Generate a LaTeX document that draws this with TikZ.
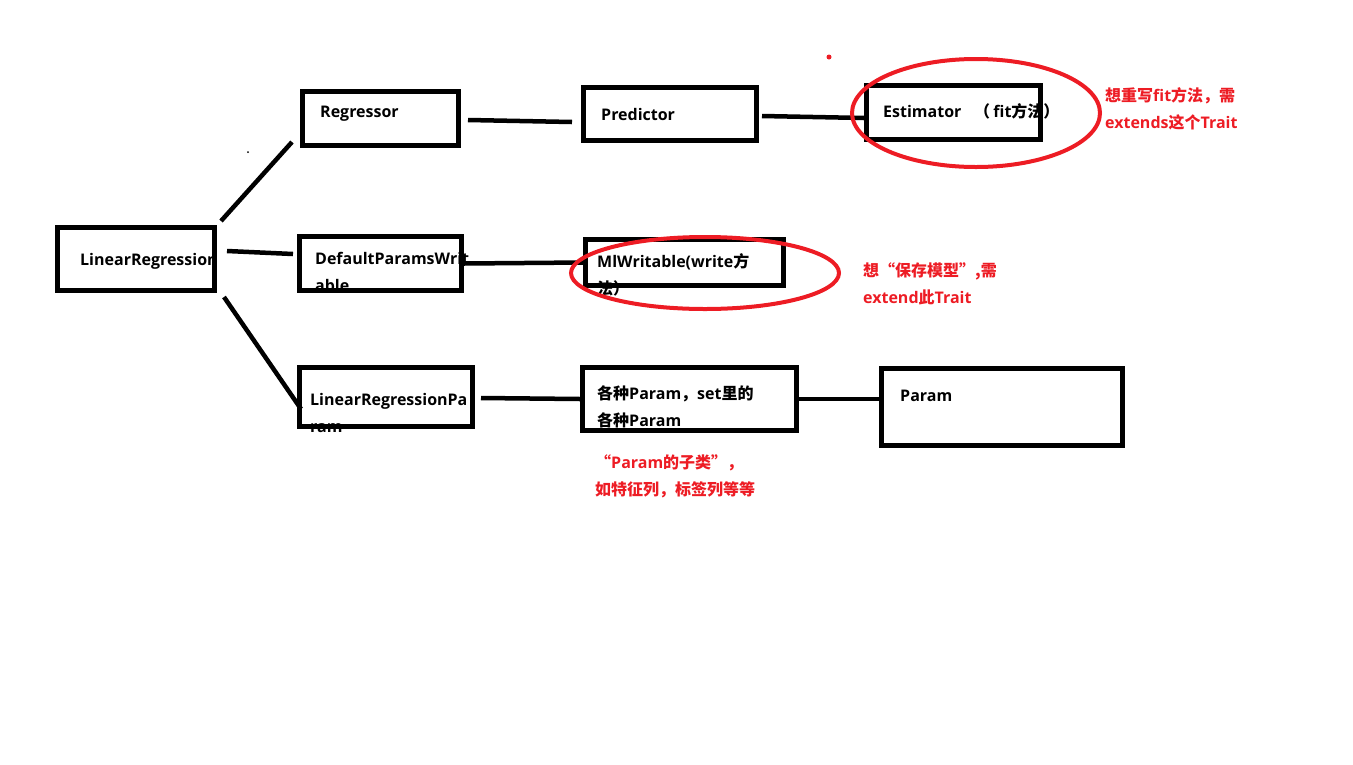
\documentclass[tikz,border=0pt]{standalone}
\usepackage{fontspec}
\setmainfont{Open Sans}
\newfontfamily\zhfont{Noto Sans CJK SC Bold}
\newcommand{\zh}[1]{{\zhfont #1}}
\definecolor{paintred}{RGB}{237,28,36}

\begin{document}
\begin{tikzpicture}[x=1pt, y=-1pt,
    box/.style={draw, line width=5pt, inner sep=0pt},
    link/.style={line width=4.5pt},
    lbl/.style={inner sep=0pt, anchor=base west, text width=300pt, align=left,
        font=\fontsize{16}{27.5}\selectfont\bfseries},
    note/.style={lbl, text=paintred},
    ring/.style={draw=paintred, line width=4pt}]
    \useasboundingbox (0,0) rectangle (1353,764);

    % texts first, the borders go over them
    \node[lbl] (linregtxt) at (80,265) {LinearRegression};
    \node[lbl] (regtxt) at (320,117) {Regressor};
    \node[lbl] (dpwtxt) at (315,264) {DefaultParamsWrit\\able};
    \node[lbl] (lrptxt) at (310,405) {LinearRegressionPa\\ram};
    \node[lbl] (predtxt) at (601,120) {Predictor};
    \node[lbl] (esttxt) at (883,117) {Estimator\hspace{0.8em}\zh{（}\hspace{0.2em}fit\zh{方法）}};
    \node[lbl] (mlwtxt) at (597,267) {MlWritable(write\zh{方}\\\zh{法）}};
    \node[lbl] (prmstxt) at (597,399) {\zh{各种}Param\zh{，}set\zh{里的}\\\zh{各种}Param};
    \node[lbl] (paramtxt) at (900,401) {Param};

    % boxes
    \node[box, minimum width=157pt, minimum height=63pt] (linreg) at (136,259) {};
    \node[box, minimum width=156pt, minimum height=54pt] (regressor) at (380.5,118.5) {};
    \node[box, minimum width=162pt, minimum height=54pt] (dpw) at (380.5,263.5) {};
    \node[box, minimum width=173pt, minimum height=59pt] (lrp) at (386,397) {};
    \node[box, minimum width=173pt, minimum height=53pt] (predictor) at (670,114) {};
    \node[box, minimum width=174pt, minimum height=54pt] (estimator) at (953.5,112.5) {};
    \node[box, minimum width=198pt, minimum height=46pt] (mlw) at (684.5,262.5) {};
    \node[box, minimum width=214pt, minimum height=63pt] (prms) at (689.5,399) {};
    \node[box, minimum width=241pt, minimum height=77pt] (param) at (1002,407) {};

    % connectors
    \draw[link] ([shift={(4,-4)}]linreg.north east) -- ([shift={(-8,-6)}]regressor.south west);
    \draw[link] ([shift={(10,-8)}]linreg.east) -- ([shift={(-4,-9.5)}]dpw.west);
    \draw[link] ([shift={(7,4)}]linreg.south east) -- ([shift={(4,12)}]lrp.west);
    \draw[link] ([shift={(7,1.5)}]regressor.east) -- ([shift={(-9,8)}]predictor.west);
    \draw[link] ([shift={(3,2)}]predictor.east) -- ([shift={(0,5.5)}]estimator.west);
    \draw[link] (dpw.east) -- (mlw.west);
    \draw[link] ([shift={(6,1)}]lrp.east) -- (prms.west);
    \draw[link] (prms.east) -- ([shift={(3,-8)}]param.west);

    % red marks
    \draw[ring] ([shift={(22.5,0.5)}]estimator.center) ellipse [x radius=124, y radius=54];
    \draw[ring] ([shift={(20.5,10.5)}]mlw.center) ellipse [x radius=134, y radius=36];
    \fill[paintred] (829,57) circle (2.5pt);
    \fill (248,152) circle (1pt);

    \node[note] (estnote) at (1105,101) {\zh{想重写}fit\zh{方法，需}\\extends\zh{这个}Trait};
    \node[note] (mlwnote) at (863,276) {\zh{想“保存模型”,需}\\extend\zh{此}Trait};
    \node[note] (prmsnote) at (595,468) {\zh{“}Param\zh{的子类”，}\\\zh{如特征列，标签列等等}};
\end{tikzpicture}
\end{document}
